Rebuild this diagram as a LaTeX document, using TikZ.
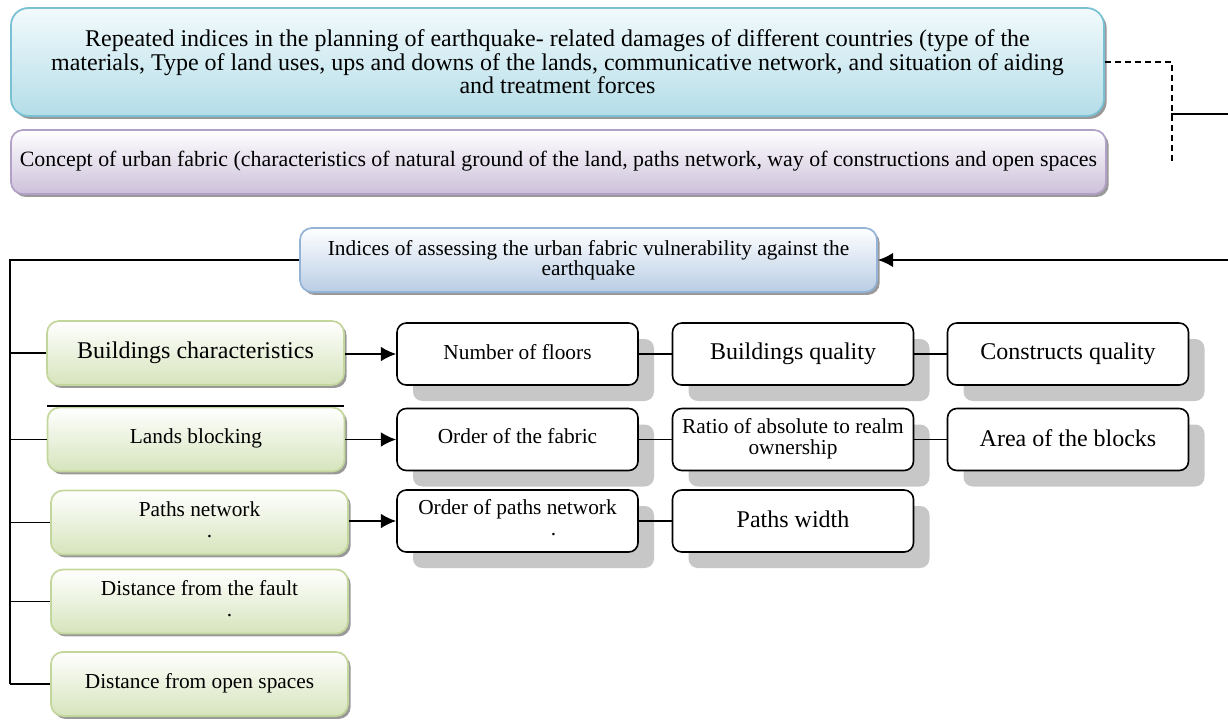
\documentclass[tikz,border=0pt]{standalone}
\usepackage{fontspec}
\setmainfont{Liberation Serif}
\usetikzlibrary{arrows.meta,shadows}
\definecolor{cyanE}{RGB}{120,192,210}
\definecolor{cyanT}{RGB}{242,250,252}
\definecolor{cyanB}{RGB}{180,221,232}
\definecolor{purpE}{RGB}{178,161,199}
\definecolor{purpB}{RGB}{204,192,218}
\definecolor{blueE}{RGB}{149,179,215}
\definecolor{blueB}{RGB}{185,205,229}
\definecolor{greenE}{RGB}{195,214,155}
\definecolor{greenB}{RGB}{214,228,188}
\newcommand{\twol}[1]{\begin{tabular}{@{}c@{}}#1\end{tabular}}
\begin{document}
\begin{tikzpicture}[x=0.75pt,y=-0.75pt,
  conn/.style={line width=1.3pt, draw=black},
  arr/.style={conn,-{Latex[length=11.5pt,width=11pt]}},
  softbox/.style={rounded corners=9pt, line width=1.3pt, inner sep=0pt, align=center,
    general shadow={fill=black!40, shadow xshift=2pt, shadow yshift=-2.2pt}},
  topbox/.style={softbox, draw=cyanE, top color=cyanT, bottom color=cyanB,
    minimum width=819.75pt, minimum height=81pt, rounded corners=13pt},
  purpbox/.style={softbox, draw=purpE, top color=white, bottom color=purpB,
    minimum width=821.25pt, minimum height=48pt},
  bluebox/.style={softbox, draw=blueE, top color=white, bottom color=blueB,
    minimum width=432.75pt, minimum height=48pt},
  greenbox/.style={softbox, draw=greenE, top color=white, bottom color=greenB,
    minimum width=222.75pt, minimum height=48pt},
  rbox/.style={rounded corners=7pt, draw=black, line width=1.2pt, fill=white,
    inner sep=0pt, align=center, minimum width=180.75pt, minimum height=46.5pt,
    general shadow={fill=black!22, shadow xshift=12pt, shadow yshift=-12pt}},
  bigtxt/.style={font=\fontsize{18}{20}\selectfont},
  midtxt/.style={font=\fontsize{16}{16}\selectfont},
]
\useasboundingbox (0,0) rectangle (1228,719);

% top boxes
\node[topbox, font=\fontsize{18}{17.6}\selectfont] (top) at (557.5,62)
  {Repeated indices in the planning of earthquake- related damages of different countries (type of the\\
   materials, Type of land uses, ups and downs of the lands, communicative network, and situation of aiding\\
   and treatment forces};
\node[purpbox, font=\fontsize{16.4}{17}\selectfont] (con) at (558.5,162)
  {\raisebox{5pt}{Concept of urban fabric (characteristics of natural ground of the land, paths network, way of constructions and open spaces}};

\node[bluebox, font=\fontsize{16}{15}\selectfont] (ind) at (588.5,260)
  {Indices of assessing the urban fabric vulnerability against the\\ earthquake};

% green boxes
\node[greenbox, bigtxt] (g1) at (195.5,353) {\raisebox{2pt}{Buildings characteristics}};
\node[greenbox, midtxt] (g2) at (196,439.5) {\raisebox{5pt}{Lands blocking}};
\node[greenbox, midtxt] (g3) at (199.5,522.5) {\twol{Paths network\\ \hspace*{15pt}.}};
\node[greenbox, midtxt] (g4) at (199.5,601.5) {\twol{Distance from the fault\\ \hspace*{45pt}.}};
\node[greenbox, midtxt] (g5) at (199.5,684) {\raisebox{5pt}{Distance from open spaces}};

% right boxes
\node[rbox, midtxt] (n11) at (517.5,354) {\raisebox{3pt}{Number of floors}};
\node[rbox, bigtxt] (n12) at (793,354) {Buildings quality};
\node[rbox, bigtxt] (n13) at (1068,354) {\raisebox{1.5pt}{Constructs quality}};
\node[rbox, midtxt] (n21) at (517.5,439.5) {\raisebox{5pt}{Order of the fabric}};
\node[rbox, midtxt] (n22) at (793,439.5) {\raisebox{4pt}{\twol{Ratio of absolute to realm\\ ownership}}};
\node[rbox, bigtxt] (n23) at (1068,439.5) {\raisebox{2pt}{Area of the blocks}};
\node[rbox, midtxt] (n31) at (517.5,521) {\twol{Order of paths network\\ \hspace*{54pt}.}};
\node[rbox, bigtxt] (n32) at (793,521) {\raisebox{3pt}{Paths width}};

% dashed link and right-edge lines
\draw[conn, dash pattern=on 4.5pt off 3pt] (top.east) -- ++(67,0) coordinate (dc) -- ++(0,103) coordinate (dend);
\coordinate (dj) at (1171,114);
\coordinate (re1) at (1228,114);
\draw[conn] (dj) -- (re1);
\coordinate (re2) at (1228,260);
\draw[arr] (re2) -- (ind.east);

% trunk
\coordinate (tr) at (10,260);
\draw[conn] (ind.west) -- (tr) -- (tr |- g5.west);
\foreach \g in {g1,g2,g3,g4,g5}
  \draw[conn] (tr |- \g.west) -- (\g.west);
\draw[line width=0.8pt] (47,406) -- (344,406);

% arrows to right boxes
\draw[arr] (g1.east |- n11.west) -- (n11.west);
\draw[arr] (g2.east |- n21.west) -- (n21.west);
\draw[arr] (g3.east |- n31.west) -- (n31.west);

% links between right boxes
\draw[conn] (n11.east) -- (n12.west);
\draw[conn] (n12.east) -- (n13.west);
\draw[conn] (n21.east) -- (n22.west);
\draw[conn] (n22.east) -- (n23.west);
\draw[conn] (n31.east) -- (n32.west);
\end{tikzpicture}
\end{document}
